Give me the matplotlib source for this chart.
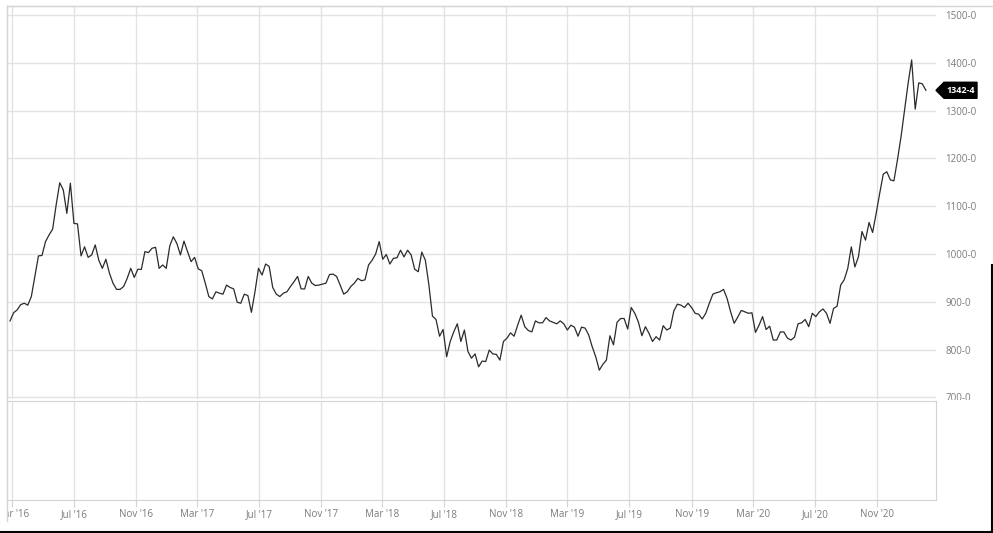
import numpy as np
import pandas as pd
import matplotlib.pyplot as plt
import matplotlib.dates as mdates
import matplotlib.transforms as mtransforms
from matplotlib.lines import Line2D
from matplotlib.patches import Polygon

plt.rcParams['font.family'] = ['Open Sans', 'DejaVu Sans']

# weekly closes, last week ends 2021-02-05
closes = [
    860, 877, 883, 894, 897, 893, 911, 953, 996, 997, 1026, 1040, 1052, 1103, 1149, 1134,
    1085, 1148, 1064, 1063, 996, 1015, 993, 998, 1019, 987, 970, 989, 960, 939, 926, 926,
    932, 949, 970, 951, 968, 968, 1005, 1003, 1012, 1014, 970, 977, 970, 1017, 1036, 1022,
    998, 1027, 1005, 984, 993, 969, 965, 939, 911, 906, 921, 918, 916, 935, 930, 927,
    899, 897, 916, 913, 878, 921, 970, 956, 979, 974, 930, 916, 911, 918, 921, 932, 942,
    953, 927, 927, 953, 939, 934, 935, 937, 939, 957, 958, 953, 935, 916, 921, 932,
    939, 949, 944, 946, 977, 987, 1000, 1026, 989, 999, 979, 991, 992, 1008, 994, 1008,
    998, 968, 963, 1004, 987, 935, 870, 863, 828, 842, 785, 817, 837, 854, 817, 841,
    796, 782, 791, 764, 776, 775, 799, 791, 790, 778, 817, 824, 835, 828, 851, 872,
    848, 840, 837, 860, 856, 856, 867, 860, 857, 854, 860, 854, 841, 851, 847, 828,
    847, 845, 831, 806, 785, 757, 769, 778, 829, 810, 857, 865, 865, 843, 888, 876,
    858, 829, 848, 834, 817, 827, 820, 850, 841, 845, 881, 895, 893, 888, 897, 888,
    876, 874, 864, 876, 897, 916, 919, 921, 926, 907, 879, 855, 868, 882, 879, 876, 877,
    836, 851, 869, 842, 849, 820, 820, 837, 837, 824, 820, 826, 854, 856, 863, 848, 876,
    869, 879, 885, 876, 855,
    886, 891, 935, 946, 970, 1015, 973, 994, 1047, 1029, 1066, 1045, 1085, 1127, 1167,
    1172, 1155, 1153, 1197, 1245, 1301, 1357, 1406, 1303, 1358, 1356, 1342.5,
]
end_week = "2021-02-05"
last_label = "1342-4"
price_ticks = [700, 800, 900, 1000, 1100, 1200, 1300, 1400, 1500]
label_months = [3, 7, 11]

weeks = pd.date_range(end=end_week, periods=len(closes), freq="7D")

W, H = 993, 533
fig = plt.figure(figsize=(W / 100, H / 100), dpi=100)

def fx(x):
    return x / W

def fy(y):
    return 1 - y / H

grid_c = '#e3e3e3'
frame_c = '#d4d4d4'
text_c = '#7a7a7a'

ax = fig.add_axes([fx(7), fy(398.5), fx(936) - fx(7), fy(6) - fy(398.5)])
ax2 = fig.add_axes([fx(7), fy(500), fx(936) - fx(7), fy(401) - fy(500)], sharex=ax)

ax.plot(weeks, closes, color='#2b2b2b', lw=0.9)

ax.set_xlim(pd.Timestamp("2016-02-20"), pd.Timestamp("2021-02-25"))
ax.set_ylim(697.7, 1518.8)

for a in (ax, ax2):
    a.xaxis.set_major_locator(mdates.MonthLocator(bymonth=label_months))
    a.grid(True, axis='x', color=grid_c, lw=1)
    a.set_axisbelow(True)

ax.xaxis.set_major_formatter(mdates.DateFormatter("%b '%y"))
ax.grid(True, axis='y', color=grid_c, lw=1)
ax.yaxis.tick_right()
ax.set_yticks(price_ticks)
ax.set_yticklabels([f"{v}-0" for v in price_ticks])
ax.tick_params(axis='y', length=0, pad=6.5, labelsize=7, labelcolor=text_c)
ax.tick_params(axis='x', length=0, labelbottom=False)
for s in ['right', 'bottom']:
    ax.spines[s].set_visible(False)
for s in ['left', 'top']:
    ax.spines[s].set_color(frame_c)

ax2.set_yticks([])
ax2.tick_params(axis='x', length=5, color=frame_c, pad=1.5, labelsize=7,
                labelcolor=text_c, labelbottom=True)
for s in ax2.spines.values():
    s.set_color(frame_c)

# clip labels the way the source widget does
fig.canvas.draw()
left_clip = mtransforms.TransformedBbox(
    mtransforms.Bbox.from_extents(fx(7), 0, 1, 1), fig.transFigure)
for lab in ax2.get_xticklabels():
    lab.set_clip_box(left_clip)
    lab.set_clip_on(True)
bottom_clip = mtransforms.TransformedBbox(
    mtransforms.Bbox.from_extents(0, fy(399.5), 1, 1), fig.transFigure)
for lab in ax.get_yticklabels():
    lab.set_clip_box(bottom_clip)
    lab.set_clip_on(True)

# last price tag
blend = mtransforms.blended_transform_factory(ax.transAxes, ax.transData)
v = closes[-1]
aw = 929.0
dy = 8 / 0.478
tag = Polygon([(1, v), (1 + 8 / aw, v + dy), (1 + 41 / aw, v + dy),
               (1 + 41 / aw, v - dy), (1 + 8 / aw, v - dy)],
              closed=True, transform=blend, color='black', clip_on=False)
ax.add_patch(tag)
ax.text(1 + 25 / aw, v, last_label, transform=blend, ha='center', va='center',
        color='white', fontsize=6.5, fontweight='bold', clip_on=False)

# outer frame
fig.add_artist(Line2D([fx(7), 1], [fy(6), fy(6)], color=frame_c, lw=1))
fig.add_artist(Line2D([fx(7), fx(7)], [fy(6), fy(521)], color=frame_c, lw=1))
fig.add_artist(Line2D([0, 1], [fy(532), fy(532)], color='black', lw=1.5))
fig.add_artist(Line2D([fx(991.5), fx(991.5)], [fy(265), fy(533)], color='black', lw=1.5))

fig.savefig("out.png", dpi=100)
